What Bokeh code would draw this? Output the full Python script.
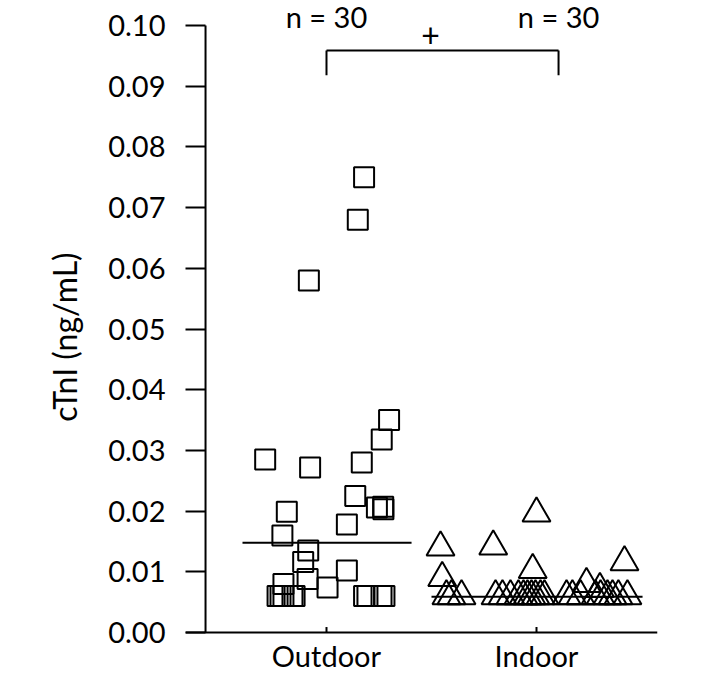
from bokeh.plotting import figure
from bokeh.models import Range1d, FixedTicker, NumeralTickFormatter
from bokeh.core.properties import value
from bokeh.embed import file_html
from bokeh.resources import INLINE

# ---------------- data ----------------
categories = ["Outdoor", "Indoor"]
category_pos = [1, 2]
n_labels = ["n = 30", "n = 30"]

outdoor_x = [1.298, 1.263, 0.708, 0.922, 1.168, 1.137, 1.240, 1.270, 1.271,
             0.811, 1.097, 0.790, 0.913, 0.889, 0.910, 1.005, 1.097, 0.795,
             1.179, 1.149, 0.916,
             0.767, 0.781, 0.795, 0.838, 0.848, 1.179, 1.195, 1.262, 1.276]
outdoor_y = [0.035, 0.0318, 0.0285, 0.0272, 0.028, 0.0225, 0.0206, 0.0207, 0.0203,
             0.0199, 0.0178, 0.016, 0.0135, 0.0116, 0.0088, 0.0074, 0.0102, 0.008,
             0.075, 0.068, 0.058,
             0.006, 0.006, 0.006, 0.006, 0.006, 0.006, 0.006, 0.006, 0.006]

indoor_x = [2.000, 1.543, 1.794, 1.551, 1.982, 2.419, 2.238, 2.302,
            1.571, 1.595, 1.643, 1.805, 1.838, 1.876, 1.914, 1.938, 1.957, 1.976,
            1.995, 2.019, 2.038, 2.143, 2.171, 2.210, 2.281, 2.305, 2.338, 2.362,
            2.390, 2.433]
indoor_y = [0.0196, 0.014, 0.0142, 0.009, 0.0103, 0.0116, 0.008, 0.0072,
            0.006, 0.006, 0.006, 0.006, 0.006, 0.006, 0.006, 0.006, 0.006, 0.006,
            0.006, 0.006, 0.006, 0.006, 0.006, 0.006, 0.006, 0.006, 0.006, 0.006,
            0.006, 0.006]

center_values = [0.0148, 0.0059]          # horizontal summary lines
center_x0 = [0.60, 1.50]
center_x1 = [1.405, 2.505]

y_ticks = [0.00, 0.01, 0.02, 0.03, 0.04, 0.05, 0.06, 0.07, 0.08, 0.09, 0.10]
y_title = "cTnI (ng/mL)"
sig_mark = "+"

# ---------------- figure ----------------
FONT = "Lato"
FS = "29px"

X0, X1 = 0.3286, 2.5762
p = figure(width=693, height=673, output_backend="svg", toolbar_location=None,
           x_axis_location=None,
           x_range=Range1d(X0, X1), y_range=Range1d(-0.0067545, 0.104119),
           min_border_left=185, min_border_right=36, min_border_top=0,
           min_border_bottom=0)
p.outline_line_color = None
p.xgrid.visible = False
p.ygrid.visible = False
p.background_fill_color = "white"
p.border_fill_color = "white"

# y axis: ticks drawn from the frame edge inward to the offset axis line
p.yaxis.ticker = FixedTicker(ticks=y_ticks)
p.yaxis.formatter = NumeralTickFormatter(format="0.00")
p.yaxis.axis_line_color = None
p.yaxis.major_tick_in = 20
p.yaxis.major_tick_out = 0
p.yaxis.major_tick_line_width = 2
p.yaxis.minor_tick_line_color = None
p.yaxis.major_label_standoff = 20
p.yaxis.major_label_text_font = FONT
p.yaxis.major_label_text_font_size = FS
p.yaxis.major_label_text_color = "black"
p.yaxis.axis_label = y_title
p.yaxis.axis_label_text_font = FONT
p.yaxis.axis_label_text_font_size = "32px"
p.yaxis.axis_label_text_font_style = "normal"
p.yaxis.axis_label_text_color = "black"
p.yaxis.axis_label_standoff = 21

# y axis line (offset from the frame edge)
y_axis_x = 0.424
p.segment(x0=[y_axis_x], y0=[y_ticks[0]], x1=[y_axis_x], y1=[y_ticks[-1]],
          line_color="black", line_width=2)

# x axis line and category ticks
p.segment(x0=[X0], y0=[0], x1=[X1], y1=[0], line_color="black", line_width=2)
p.segment(x0=category_pos, y0=[0, 0], x1=category_pos, y1=[0.0009, 0.0009],
          line_color="black", line_width=2)
p.text(x=category_pos, y=[-0.0038, -0.0038], text=categories,
       text_align="center", text_baseline="middle",
       text_font=value(FONT), text_font_size=FS, text_color="black")

# data points
p.scatter(outdoor_x, outdoor_y, marker="square", size=20, line_width=2,
          line_color="black", fill_color=None)
p.scatter(indoor_x, indoor_y, marker="triangle", size=28, line_width=2,
          line_color="black", fill_color=None)

# summary lines
p.segment(x0=center_x0, y0=center_values, x1=center_x1, y1=center_values,
          line_color="black", line_width=2)

# significance bracket
br_y = 0.0959
br_drop = 0.0918
br_x = [category_pos[0], 2.105]
p.segment(x0=[br_x[0], br_x[0], br_x[1]], y0=[br_y, br_y, br_y],
          x1=[br_x[1], br_x[0], br_x[1]], y1=[br_y, br_drop, br_drop],
          line_color="black", line_width=2)

# texts above the plot
p.text(x=[category_pos[0], br_x[1]], y=[0.10148, 0.10148], text=n_labels,
       text_align="center", text_baseline="middle",
       text_font=value(FONT), text_font_size=FS, text_color="black")
p.text(x=[1.495], y=[0.0984], text=[sig_mark],
       text_align="center", text_baseline="middle",
       text_font=value(FONT), text_font_size="32px", text_color="black")

open("out.html", "w").write(file_html(p, INLINE))
